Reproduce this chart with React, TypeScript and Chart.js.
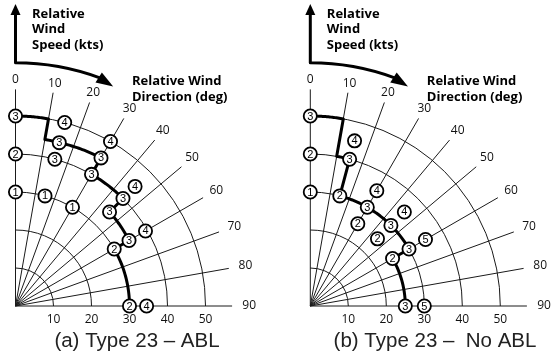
import React, { useEffect, useRef } from "react";
import { Chart, registerables } from "chart.js";
Chart.register(...registerables);

// ---- shared axes ----
const angleTicks = [0, 10, 20, 30, 40, 50, 60, 70, 80, 90];
const ringSpeeds = [10, 20, 30, 40, 50];
const speedTicks = [10, 20, 30, 40, 50];

// ---- panel (a): Type 23 – ABL ----
const dirA = [0, 0, 0, 15, 15, 15, 15, 30, 30, 30, 30, 45, 45, 45, 60, 60, 60, 90, 90];
const spdA = [30, 40, 50, 30, 40, 44.5, 50, 30, 40, 45, 50, 35, 40, 44.5, 30, 34.5, 39.5, 30, 34.5];
const ratingA = [1, 2, 3, 1, 3, 3, 4, 1, 3, 3, 4, 3, 3, 4, 2, 3, 4, 2, 4];
const envDirA = [0, 10, 10, 15, 30, 30, 45, 45, 60, 60, 90];
const envSpdA = [50, 50, 44.5, 44.5, 45, 40, 40, 35, 34.5, 30, 30];

// ---- panel (b): Type 23 – No ABL ----
const dirB = [0, 0, 0, 15, 15, 15, 30, 30, 30, 45, 45, 45, 60, 60, 60, 90, 90];
const spdB = [30, 40, 50, 30, 40, 45, 25, 30, 35, 25, 30, 35, 25, 30, 35, 25, 30];
const ratingB = [1, 2, 3, 2, 3, 4, 2, 3, 4, 2, 3, 4, 2, 3, 5, 3, 5];
const envDirB = [0, 10, 10, 15, 15, 30, 45, 60, 60, 90];
const envSpdB = [50, 50, 40, 40, 30, 30, 30, 30, 25, 25];

const captionA = "(a) Type 23 \u2013 ABL";
const captionB = "(b) Type 23 \u2013  No ABL";

const PX_PER_KT = 3.8;
const CANVAS_H = 363;
const ORIGIN_Y = 306;

const rad = (d: number) => (d * Math.PI) / 180;

type PanelProps = {
  dirs: number[];
  spds: number[];
  ratings: number[];
  envDirs: number[];
  envSpds: number[];
  caption: string;
  width: number;
  left: number;
  originX: number;
  captionX: number;
};

function makePlugin(p: PanelProps) {
  return {
    id: "polarDecor",
    beforeDatasetsDraw(chart: any) {
      const { ctx } = chart;
      const xs = chart.scales.x;
      const ys = chart.scales.y;
      const cx = xs.getPixelForValue(0);
      const cy = ys.getPixelForValue(0);
      const k = xs.getPixelForValue(1) - cx;
      const P = (s: number, d: number): [number, number] => [
        xs.getPixelForValue(s * Math.sin(rad(d))),
        ys.getPixelForValue(s * Math.cos(rad(d))),
      ];
      ctx.save();
      // rings
      ctx.strokeStyle = "#1a1a1a";
      ctx.lineWidth = 1;
      for (const r of ringSpeeds) {
        ctx.beginPath();
        ctx.arc(cx, cy, r * k, -Math.PI / 2, 0);
        ctx.stroke();
      }
      // radial lines
      for (const d of angleTicks) {
        const [px, py] = P(57, d);
        ctx.beginPath();
        ctx.moveTo(cx, cy);
        ctx.lineTo(px, py);
        ctx.stroke();
      }
      // angle labels
      ctx.fillStyle = "#111";
      ctx.font = '12px "Open Sans"';
      ctx.textAlign = "center";
      ctx.textBaseline = "middle";
      for (const d of angleTicks) {
        const s = Math.sin(rad(d));
        const [px, py] = P(59.5 + 2 * s * s, d);
        ctx.fillText(String(d), px, py);
      }
      // envelope
      ctx.strokeStyle = "#000";
      ctx.lineWidth = 3;
      ctx.lineJoin = "round";
      ctx.lineCap = "round";
      ctx.beginPath();
      const e0 = P(p.envSpds[0], p.envDirs[0]);
      ctx.moveTo(e0[0], e0[1]);
      for (let i = 1; i < p.envDirs.length; i++) {
        const d1 = p.envDirs[i - 1], d2 = p.envDirs[i];
        const s1 = p.envSpds[i - 1], s2 = p.envSpds[i];
        if (d1 === d2) {
          const q = P(s2, d2);
          ctx.lineTo(q[0], q[1]);
        } else {
          const n = 24;
          for (let j = 1; j <= n; j++) {
            const t = j / n;
            const q = P(s1 + (s2 - s1) * t, d1 + (d2 - d1) * t);
            ctx.lineTo(q[0], q[1]);
          }
        }
      }
      ctx.stroke();

      // arrows
      const arrowHead = (tx: number, ty: number, bx: number, by: number, hw: number) => {
        const ang = Math.atan2(ty - by, tx - bx);
        const nx = -Math.sin(ang), ny = Math.cos(ang);
        ctx.beginPath();
        ctx.moveTo(tx, ty);
        ctx.lineTo(bx + nx * hw, by + ny * hw);
        ctx.lineTo(bx - nx * hw, by - ny * hw);
        ctx.closePath();
        ctx.fill();
      };
      ctx.fillStyle = "#000";
      ctx.lineWidth = 3;
      ctx.lineCap = "butt";
      ctx.lineJoin = "round";
      const R = 64 * k;
      const top = P(79.5, 0);
      const endDeg = 20.3;
      ctx.beginPath();
      ctx.moveTo(top[0], top[1] + 9);
      ctx.lineTo(cx, cy - R);
      ctx.arc(cx, cy, R, -Math.PI / 2, -Math.PI / 2 + rad(endDeg));
      ctx.stroke();
      arrowHead(top[0], top[1], top[0], top[1] + 11, 5);
      const base = P(64, endDeg - 0.3);
      const tip = P(63.2, 24);
      arrowHead(tip[0], tip[1], base[0], base[1], 6);

      // titles
      ctx.fillStyle = "#000";
      ctx.font = 'bold 13px "Open Sans"';
      ctx.textAlign = "left";
      ctx.textBaseline = "middle";
      ctx.fillText("Relative", cx + 16.5, 14);
      ctx.fillText("Wind", cx + 16.5, 29.5);
      ctx.fillText("Speed (kts)", cx + 16.5, 45);
      ctx.fillText("Relative Wind", cx + 116.5, 81);
      ctx.fillText("Direction (deg)", cx + 116.5, 97);

      // caption
      ctx.fillStyle = "#222";
      ctx.font = '20.5px "Liberation Sans"';
      ctx.textAlign = "center";
      ctx.textBaseline = "alphabetic";
      ctx.fillText(p.caption, p.captionX, 347);
      ctx.restore();
    },
    afterDatasetsDraw(chart: any) {
      const { ctx } = chart;
      const meta = chart.getDatasetMeta(0);
      ctx.save();
      ctx.fillStyle = "#000";
      ctx.font = '11px "Liberation Sans"';
      ctx.textAlign = "center";
      ctx.textBaseline = "middle";
      meta.data.forEach((el: any, i: number) => {
        ctx.fillText(String(p.ratings[i]), el.x, el.y + 0.5);
      });
      ctx.restore();
    },
  };
}

function Panel(p: PanelProps) {
  const ref = useRef<HTMLCanvasElement | null>(null);
  useEffect(() => {
    if (!ref.current) return;
    const data = p.dirs.map((d, i) => ({
      x: p.spds[i] * Math.sin(rad(d)),
      y: p.spds[i] * Math.cos(rad(d)),
    }));
    const chart: any = new Chart(ref.current, {
      type: "scatter",
      data: {
        datasets: [
          {
            data,
            pointRadius: 6.6,
            pointBorderWidth: 1.8,
            pointBackgroundColor: "#fff",
            pointBorderColor: "#000",
            showLine: false,
            clip: false,
          },
        ],
      },
      options: {
        responsive: false,
        maintainAspectRatio: false,
        devicePixelRatio: 1,
        animation: false,
        events: [],
        layout: { padding: 0 },
        plugins: { legend: { display: false }, tooltip: { enabled: false } },
        scales: {
          x: {
            type: "linear",
            axis: "x",
            position: { y: 0 },
            min: 0,
            max: 70,
            grid: { display: false, drawTicks: false },
            border: { display: false },
            afterBuildTicks: (s: any) => {
              s.ticks = speedTicks.map((v) => ({ value: v }));
            },
            ticks: {
              autoSkip: false,
              maxRotation: 0,
              padding: 6,
              color: "#111",
              font: { family: "Open Sans", size: 12 },
            },
          },
          y: { type: "linear", display: false, min: 0, max: 90 },
        },
      } as any,
      plugins: [makePlugin(p) as any],
    });
    // fit the ranges to the actual chart area so that 1 kt = PX_PER_KT px on both axes
    const a = chart.chartArea;
    const xmin = -(p.originX - a.left) / PX_PER_KT;
    const xmax = xmin + (a.right - a.left) / PX_PER_KT;
    const ymax = (ORIGIN_Y - a.top) / PX_PER_KT;
    const ymin = ymax - (a.bottom - a.top) / PX_PER_KT;
    chart.options.scales.x.min = xmin;
    chart.options.scales.x.max = xmax;
    chart.options.scales.y.min = ymin;
    chart.options.scales.y.max = ymax;
    chart.update();
    return () => chart.destroy();
  }, []);
  return (
    <canvas
      ref={ref}
      width={p.width}
      height={CANVAS_H}
      style={{ position: "absolute", left: p.left, top: 0, width: p.width, height: CANVAS_H }}
    />
  );
}

export default function App() {
  return (
    <div style={{ position: "absolute", left: 0, top: 0, width: 557, height: 363, background: "#fff" }}>
      <Panel dirs={dirA} spds={spdA} ratings={ratingA} envDirs={envDirA} envSpds={envSpdA}
        caption={captionA} width={278} left={0} originX={15.5} captionX={137} />
      <Panel dirs={dirB} spds={spdB} ratings={ratingB} envDirs={envDirB} envSpds={envSpdB}
        caption={captionB} width={279} left={278} originX={32.3} captionX={157} />
    </div>
  );
}
